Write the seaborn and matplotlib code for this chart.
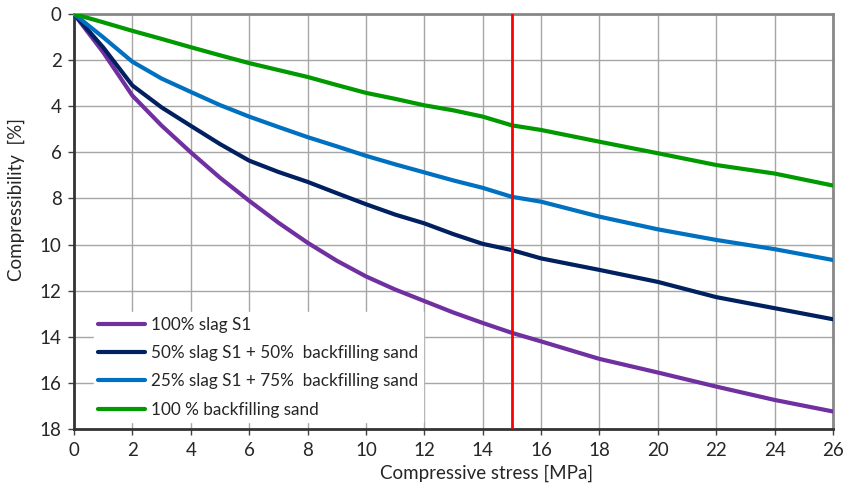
import numpy as np
import pandas as pd
import matplotlib
matplotlib.use("Agg")
import matplotlib.pyplot as plt
import seaborn as sns

stress = [0, 1, 2, 3, 4, 5, 6, 7, 8, 9, 10, 11, 12, 13, 14, 15, 16, 18, 20, 22, 24, 26]
slag100 = [0, 1.66, 3.54, 4.84, 6.0, 7.1, 8.1, 9.05, 9.92, 10.7, 11.38, 11.95, 12.45, 12.95, 13.4, 13.83,
           14.2, 14.96, 15.55, 16.16, 16.74, 17.24]
slag50 = [0, 1.45, 3.1, 4.05, 4.85, 5.64, 6.36, 6.85, 7.28, 7.77, 8.25, 8.7, 9.08, 9.55, 9.97, 10.24,
          10.6, 11.1, 11.62, 12.28, 12.76, 13.24]
slag25 = [0, 1.01, 2.07, 2.8, 3.38, 3.95, 4.45, 4.9, 5.34, 5.74, 6.15, 6.52, 6.87, 7.22, 7.54, 7.93,
          8.14, 8.79, 9.34, 9.8, 10.2, 10.67]
sand100 = [0, 0.36, 0.73, 1.08, 1.44, 1.79, 2.13, 2.43, 2.73, 3.08, 3.42, 3.68, 3.96, 4.18, 4.45, 4.83,
           5.03, 5.54, 6.04, 6.55, 6.92, 7.44]
labels = ["100% slag S1",
          "50% slag S1 + 50%  backfilling sand",
          "25% slag S1 + 75%  backfilling sand",
          "100 % backfilling sand"]
colors = ["#7030A0", "#002060", "#0070C0", "#009900"]
limit_stress = 15

frames = []
for lab, vals in zip(labels, [slag100, slag50, slag25, sand100]):
    frames.append(pd.DataFrame({"stress": stress, "comp": vals, "mix": lab}))
df = pd.concat(frames, ignore_index=True)

sns.set_style("white")
plt.rcParams['font.family'] = ['Lato', 'DejaVu Sans']

fig = plt.figure(figsize=(8.47, 5.0), dpi=100)
ax = fig.add_axes([74/847, 1-429/500, (833-74)/847, (429-14)/500])

sns.lineplot(data=df, x="stress", y="comp", hue="mix", palette=colors,
             hue_order=labels, linewidth=3, ax=ax, zorder=3)
for ln in ax.get_lines():
    ln.set_solid_joinstyle("round")
    ln.set_solid_capstyle("round")
ax.axvline(limit_stress, color="#FF0000", lw=2, zorder=4)

ax.set_xlim(0, 26)
ax.set_ylim(18, 0)
ax.set_xticks(np.arange(0, 27, 2))
ax.set_yticks(np.arange(0, 19, 2))
ax.grid(True, color="#a6a6a6", lw=1)
ax.set_axisbelow(True)
ax.tick_params(axis="both", labelsize=13.5, direction="out", length=4, width=1,
               color="#404040", left=True, bottom=True, pad=5)
for s in ["left", "bottom"]:
    ax.spines[s].set_color("#333333")
    ax.spines[s].set_linewidth(2)
for s in ["top", "right"]:
    ax.spines[s].set_color("#888888")
    ax.spines[s].set_linewidth(2)

ax.set_xlabel("Compressive stress [MPa]", fontsize=13.5)
ax.set_ylabel("Compressibility  [%]", fontsize=13.5)
ax.xaxis.set_label_coords(0.544, -0.085)
ax.yaxis.set_label_coords(-0.064, 0.552)

leg = ax.legend(loc="lower left", bbox_to_anchor=(0.017, 0.0), frameon=True,
                fontsize=12.3, handlelength=2.75, handletextpad=0.35,
                labelspacing=0.72, borderpad=0.26, borderaxespad=0.4)
leg.get_frame().set_edgecolor("white")
leg.get_frame().set_facecolor("white")
leg.get_frame().set_alpha(1)
leg.get_frame().set_boxstyle("square", pad=0)
for l in leg.get_lines():
    l.set_linewidth(3)

fig.savefig("out.png", dpi=100)
